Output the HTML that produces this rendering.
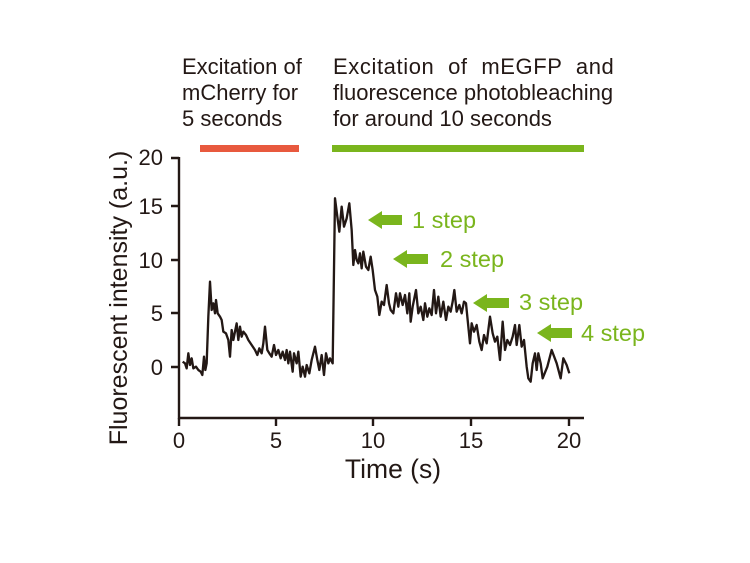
<!DOCTYPE html>
<html><head><meta charset="utf-8"><style>
html,body{margin:0;padding:0;background:#fff;}
svg{display:block;font-family:"Liberation Sans",sans-serif;}
</style></head><body>
<svg width="750" height="563" viewBox="0 0 750 563" xmlns="http://www.w3.org/2000/svg">
<g fill="#231815" font-size="22">
<text x="182" y="74">Excitation of</text>
<text x="182" y="100">mCherry for</text>
<text x="182" y="126">5 seconds</text>
<text x="333" y="74" letter-spacing="0.6" word-spacing="7">Excitation of mEGFP and</text>
<text x="333" y="100">fluorescence photobleaching</text>
<text x="333" y="126">for around 10 seconds</text>
</g>
<rect x="200" y="145" width="99" height="7" fill="#e8593e"/>
<rect x="332" y="145" width="252" height="7" fill="#7ab51d"/>
<g stroke="#231815" stroke-width="2.4" fill="none">
<path d="M179,157 V418 H584"/>
<path d="M171,158 H179 M171,206 H179 M171,260 H179 M171,313 H179 M171,367 H179"/>
<path d="M179,418 V426 M276,418 V426 M373,418 V426 M471,418 V426 M569,418 V426"/>
</g>
<g fill="#231815" font-size="22" text-anchor="end">
<text x="163" y="165">20</text><text x="163" y="214">15</text><text x="163" y="268">10</text><text x="163" y="321">5</text><text x="163" y="375">0</text>
</g>
<g fill="#231815" font-size="22" text-anchor="middle">
<text x="179" y="448">0</text><text x="276" y="448">5</text><text x="373" y="448">10</text><text x="471" y="448">15</text><text x="569" y="448">20</text>
</g>
<text x="393" y="478" font-size="26.5" text-anchor="middle" fill="#231815">Time (s)</text>
<text transform="translate(127,298) rotate(-90)" font-size="25" text-anchor="middle" fill="#231815">Fluorescent intensity (a.u.)</text>
<g transform="translate(170,150) scale(0.33333)">
<path fill="none" stroke="#231815" stroke-width="7" stroke-linejoin="round" d="M38,635 L45,640 50,655 55,610 60,645 65,625 70,655 78,650 85,660 92,665 97,675 102,620 106,660 110,640 115,500 120,395 125,480 130,460 135,490 138,450 143,490 150,500 155,510 160,545 168,550 175,570 180,620 185,540 190,570 195,545 200,520 205,570 210,530 215,560 220,545 228,555 235,570 245,585 255,600 262,615 268,595 275,610 280,580 285,530 292,600 298,610 305,620 312,585 318,615 325,600 332,625 338,605 345,630 350,600 355,640 360,605 368,665 372,610 380,640 385,605 392,680 398,650 405,680 410,645 418,670 425,630 435,590 442,630 448,660 455,615 462,675 468,610 475,640 480,625 488,640 495,145 502,200 508,245 515,170 522,230 530,205 538,160 545,240 550,345 555,300 560,330 565,340 570,310 575,355 580,305 588,350 595,360 602,320 608,360 615,420 622,440 628,495 635,455 642,465 650,405 657,460 662,480 670,490 678,430 685,470 690,430 698,465 705,435 712,490 718,430 722,515 728,470 738,420 745,490 752,470 760,510 765,460 772,500 778,475 785,495 792,420 798,490 805,440 812,500 820,455 828,510 835,470 842,485 848,455 853,420 860,485 868,465 875,490 882,455 888,460 895,530 900,580 905,520 912,545 920,525 928,575 935,600 942,555 950,580 960,500 968,550 975,575 982,560 990,630 998,515 1005,600 1012,570 1020,585 1028,560 1035,525 1040,585 1048,525 1055,590 1062,570 1070,650 1075,685 1082,695 1088,640 1095,610 1100,660 1105,610 1112,640 1118,685 1132,650 1145,600 1160,640 1172,685 1180,625 1190,645 1198,670"/>
</g>
<g fill="#7ab51d">
<path d="M368,220 L382,211 V215 H402 V225 H382 V229 Z"/>
<path d="M393,259 L407,250 V254 H428 V264 H407 V268 Z"/>
<path d="M473,303 L487,294 V298 H509 V308 H487 V312 Z"/>
<path d="M537,333 L551,324 V328 H572 V338 H551 V342 Z"/>
</g>
<g fill="#7ab51d" font-size="23.5">
<text x="412" y="228">1 step</text>
<text x="440" y="267">2 step</text>
<text x="519" y="310">3 step</text>
<text x="581" y="341">4 step</text>
</g>
</svg>
</body></html>
